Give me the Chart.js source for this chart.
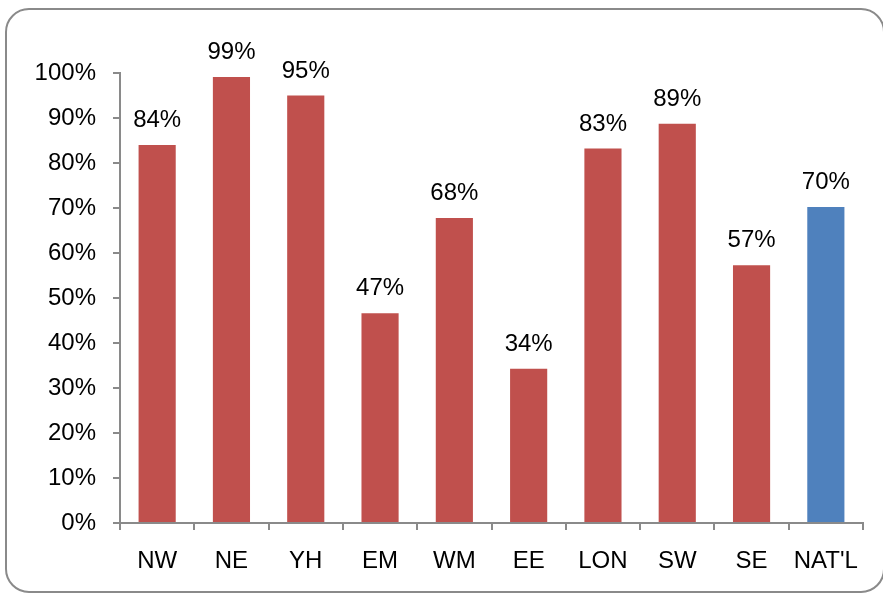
<!DOCTYPE html>
<html>
<head>
<meta charset="utf-8">
<script src="https://cdn.jsdelivr.net/npm/chart.js@4/dist/chart.umd.min.js"></script>
<style>
  html, body { margin: 0; padding: 0; background: #fff; overflow: hidden; }
  #wrap { position: relative; width: 883px; height: 598px; }
  #frame {
    position: absolute; left: 5px; top: 8px; width: 880px; height: 585px;
    border: 2px solid #8a8a8a; border-radius: 24px; box-sizing: border-box;
  }
  canvas { position: absolute; left: 0; top: 0; }
</style>
</head>
<body>
<div id="wrap">
  <div id="frame"></div>
  <canvas id="chart" width="883" height="598"></canvas>
</div>
<script>
// Regions and share values
const regions = ["NW", "NE", "YH", "EM", "WM", "EE", "LON", "SW", "SE", "NAT'L"];
const shares = [84, 99.1, 95, 46.6, 67.8, 34.3, 83.2, 88.7, 57.3, 70.2];
const yTicks = [0, 10, 20, 30, 40, 50, 60, 70, 80, 90, 100];

const barColors = regions.map(r => r === "NAT'L" ? "#4F81BD" : "#C0504D");
const FONT = "'Liberation Sans', Arial, sans-serif";

// Value labels above each bar
const valueLabels = {
  id: "valueLabels",
  afterDatasetsDraw(chart) {
    const ctx = chart.ctx;
    const meta = chart.getDatasetMeta(0);
    ctx.save();
    ctx.font = "24px " + FONT;
    ctx.fillStyle = "#000";
    ctx.textAlign = "center";
    ctx.textBaseline = "alphabetic";
    meta.data.forEach((bar, i) => {
      ctx.fillText(Math.round(shares[i]) + "%", bar.x, bar.y - 18);
    });
    ctx.restore();
  }
};

new Chart(document.getElementById("chart"), {
  type: "bar",
  data: {
    labels: regions,
    datasets: [{
      data: shares,
      backgroundColor: barColors,
      barPercentage: 0.5,
      categoryPercentage: 1.0
    }]
  },
  options: {
    responsive: false,
    animation: false,
    layout: { padding: { top: 73, right: 20, left: 0, bottom: 0 } },
    plugins: { legend: { display: false }, tooltip: { enabled: false } },
    scales: {
      x: {
        afterFit: s => { s.height = 75; },
        grid: {
          display: true, offset: true, drawOnChartArea: false, drawTicks: true,
          tickLength: 7, color: "#8a8a8a", lineWidth: 2
        },
        border: { display: true, color: "#8a8a8a", width: 2 },
        ticks: { color: "#000", font: { family: FONT, size: 24 }, padding: 17 }
      },
      y: {
        min: 0, max: 100,
        afterFit: s => { s.width = 120; },
        afterBuildTicks: s => { s.ticks = yTicks.map(v => ({ value: v })); },
        grid: {
          display: true, drawOnChartArea: false, drawTicks: true,
          tickLength: 7, color: "#8a8a8a", lineWidth: 2
        },
        border: { display: true, color: "#8a8a8a", width: 2 },
        ticks: {
          color: "#000", font: { family: FONT, size: 24 }, padding: 17,
          callback: v => v + "%"
        }
      }
    }
  },
  plugins: [valueLabels]
});
</script>
</body>
</html>
